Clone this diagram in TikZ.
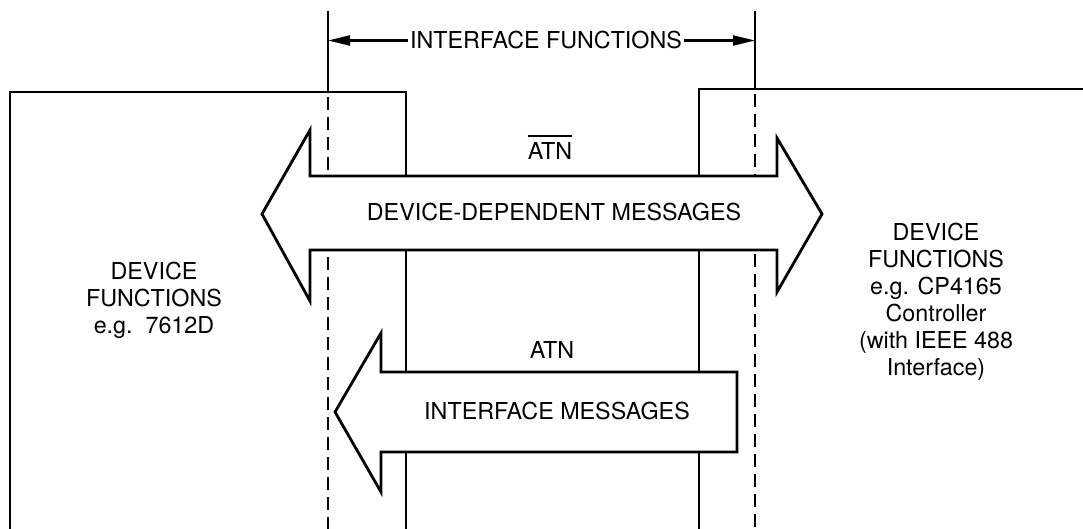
\documentclass[tikz,border=0pt]{standalone}
\usepackage{fontspec}
\setmainfont{TeX Gyre Heros}
\usetikzlibrary{arrows.meta}
\begin{document}
\begin{tikzpicture}[x=1pt,y=-1pt,
  boxline/.style={line width=2.8pt,line join=miter},
  refline/.style={line width=1.8pt},
  dashline/.style={line width=1.8pt,dash pattern=on 13pt off 7pt},
  bigarrow/.style={line width=2.8pt,line join=miter,fill=white,draw=black},
  lbl/.style={font=\fontsize{23.3}{27}\selectfont,inner sep=0pt,align=center}]
\useasboundingbox (0,0) rectangle (1083,529);
% reference lines of the interface
\coordinate (lt) at (328,11);
\coordinate (lm) at (328,92);
\coordinate (lb) at (328,529);
\coordinate (rt) at (755,11);
\coordinate (rm) at (755,89);
\coordinate (rb) at (755,529);
\draw[refline] (lt) -- (lm);
\draw[refline] (rt) -- (rm);
\draw[dashline] ([yshift=-5pt]lm) -- (lb);
\draw[dashline] ([yshift=-5pt]rm) -- (rb);
% device boxes
\draw[boxline] (10,529) -- (10,92) -- (406,92) -- (406,529);
\draw[boxline] (699,529) -- (699,89) -- (1083,89);
% interface functions span
\node[lbl,inner xsep=2pt] (ifn) at (546,40.5) {INTERFACE FUNCTIONS};
\coordinate (ifl) at (328,40.5);
\coordinate (ifr) at (755,40.5);
\draw[line width=2.2pt,-{Triangle[length=22pt,width=10pt]}] (ifn.west) -- (ifl);
\draw[line width=2.2pt,-{Triangle[length=22pt,width=10pt]}] (ifn.east) -- (ifr);
% device-dependent messages (double arrow)
\draw[bigarrow] (262,214) -- (310,130) -- (310,176) -- (777,176) -- (777,138)
  -- (822,214) -- (777,292) -- (777,250) -- (310,250) -- (310,301) -- cycle;
% interface messages (left arrow)
\draw[bigarrow] (335,412) -- (381,333) -- (381,372) -- (737,372) -- (737,452)
  -- (381,452) -- (381,492) -- cycle;
% labels
\node[lbl] (atnbar) at (550,151.5) {ATN};
\draw[line width=1.8pt] ([yshift=7pt]atnbar.north west) -- ([yshift=7pt]atnbar.north east);
\node[lbl] (ddm) at (554,212) {DEVICE-DEPENDENT MESSAGES};
\node[lbl] (atn) at (552,350) {ATN};
\node[lbl] (im) at (557,411.5) {INTERFACE MESSAGES};
\node[lbl] (ldev) at (154,300) {DEVICE\\FUNCTIONS\\e.g.~~7612D};
\node[lbl] (rdev) at (936,301.5) {DEVICE\\FUNCTIONS\\e.g. CP4165\\Controller\\(with IEEE 488\\Interface)};
\end{tikzpicture}
\end{document}
